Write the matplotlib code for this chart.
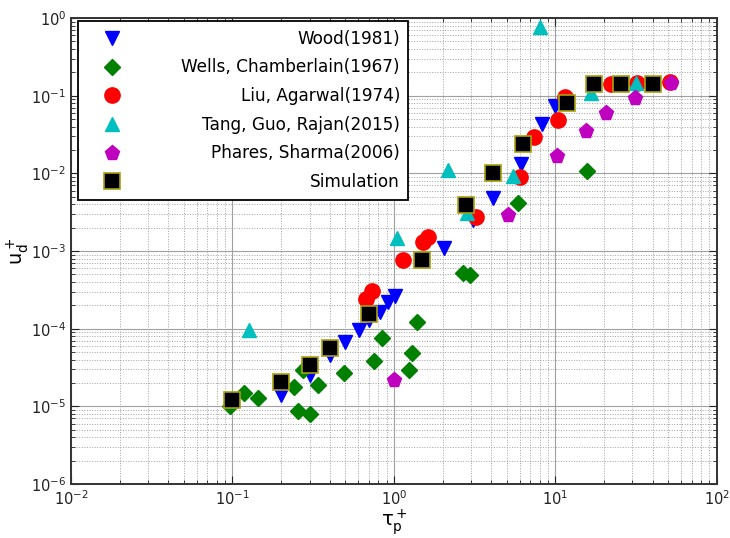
import numpy as np
import matplotlib
matplotlib.use('Agg')
import matplotlib.pyplot as plt

plt.rcParams['mathtext.default'] = 'regular'

# Wood(1981)
wood_x = [0.2, 0.3, 0.4, 0.5, 0.61, 0.7, 0.82, 0.92, 1.01, 2.04, 3.08, 4.1, 6.1, 8.25, 9.9]
wood_y = [1.4e-5, 2.5e-5, 4.6e-5, 6.8e-5, 9.7e-5, 1.3e-4, 1.65e-4, 2.2e-4, 2.6e-4,
          1.1e-3, 2.5e-3, 4.8e-3, 1.32e-2, 4.3e-2, 7.4e-2]

# Wells, Chamberlain(1967)
wells_x = [0.097, 0.118, 0.144, 0.24, 0.255, 0.30, 0.273, 0.338, 0.49, 0.75, 0.84,
           1.24, 1.29, 1.39, 2.67, 2.95, 5.86, 15.7]
wells_y = [1.0e-5, 1.5e-5, 1.29e-5, 1.75e-5, 8.7e-6, 8.0e-6, 2.95e-5, 1.89e-5, 2.7e-5,
           3.85e-5, 7.6e-5, 2.95e-5, 4.9e-5, 1.22e-4, 5.2e-4, 4.9e-4, 4.16e-3, 1.07e-2]

# Liu, Agarwal(1974)
liu_x = [0.67, 0.73, 1.14, 1.51, 1.62, 3.22, 6.03, 7.36, 10.4, 11.5, 22.1, 32.0, 51.0]
liu_y = [2.42e-4, 3.06e-4, 7.7e-4, 1.31e-3, 1.52e-3, 2.75e-3, 9.0e-3, 2.94e-2, 4.87e-2,
         9.6e-2, 0.1415, 0.145, 0.15]

# Tang, Guo, Rajan(2015)
tang_x = [0.126, 1.04, 2.16, 2.83, 5.46, 8.0, 16.6, 31.5]
tang_y = [9.7e-5, 1.47e-3, 1.1e-2, 3.1e-3, 9.3e-3, 0.766, 0.108, 0.146]

# Phares, Sharma(2006)
phares_x = [1.0, 5.08, 10.2, 15.5, 20.6, 31.0, 52.0]
phares_y = [2.2e-5, 2.9e-3, 1.68e-2, 3.51e-2, 5.99e-2, 9.4e-2, 0.146]

# Simulation
sim_x = [0.1, 0.2, 0.3, 0.4, 0.7, 1.5, 2.8, 4.1, 6.3, 11.8, 17.3, 25.5, 40.0]
sim_y = [1.21e-5, 2.07e-5, 3.42e-5, 5.66e-5, 1.55e-4, 7.7e-4, 3.9e-3, 1.01e-2, 2.39e-2,
         8.05e-2, 0.1415, 0.1415, 0.1415]

fig = plt.figure(figsize=(7.30, 5.38), dpi=100)
ax = fig.add_axes([0.0973, 0.1004, 0.8847, 0.8661])

ax.plot(wood_x, wood_y, 'v', color='#0000ff', ms=10, ls='none', label='Wood(1981)')
ax.plot(wells_x, wells_y, 'D', color='#008000', ms=8.5, ls='none', label='Wells, Chamberlain(1967)')
ax.plot(liu_x, liu_y, 'o', color='#ff0000', ms=11, ls='none', label='Liu, Agarwal(1974)')
ax.plot(tang_x, tang_y, '^', color='#00bfbf', ms=10, ls='none', label='Tang, Guo, Rajan(2015)')
ax.plot(phares_x, phares_y, 'p', color='#bf00bf', ms=11, ls='none', label='Phares, Sharma(2006)')
ax.plot(sim_x, sim_y, 's', mfc='black', mec='#a89f10', mew=1.2, ms=11, ls='none', label='Simulation')

ax.set_xscale('log')
ax.set_yscale('log')
ax.set_xlim(1e-2, 1e2)
ax.set_ylim(1e-6, 1e0)

ax.grid(True, which='major', color='#a0a0a0', lw=0.8, ls='-')
ax.grid(True, which='minor', color='#a0a0a0', lw=0.7, ls=':')
ax.set_axisbelow(True)

ax.tick_params(which='both', direction='in', top=True, right=True, labelsize=10.5, colors='#222222')
ax.tick_params(which='major', length=6)
ax.tick_params(which='minor', length=3)
for s in ax.spines.values():
    s.set_linewidth(1.4)
    s.set_color('#333333')

ax.set_xlabel(r'$\tau_p^+$', fontsize=14, va='top')
ax.xaxis.set_label_coords(0.5, -0.05)
ax.set_ylabel(r'$u_d^+$', fontsize=14)
ax.yaxis.set_label_coords(-0.062, 0.50)

leg = ax.legend(loc='upper left', bbox_to_anchor=(0.011, 0.993), borderaxespad=0,
                fontsize=12.2, fancybox=False, framealpha=1, edgecolor='black',
                labelspacing=0.63, handletextpad=2.6, borderpad=0.5, handlelength=3.0)
leg.get_frame().set_linewidth(1.3)

# right-align legend texts inside their column
fig.canvas.draw()
renderer = fig.canvas.get_renderer()
widths = [t.get_window_extent(renderer).width for t in leg.get_texts()]
shift = max(widths)
for t, w in zip(leg.get_texts(), widths):
    t.set_position((shift - w, 0))

fig.savefig('out.png', dpi=100)
